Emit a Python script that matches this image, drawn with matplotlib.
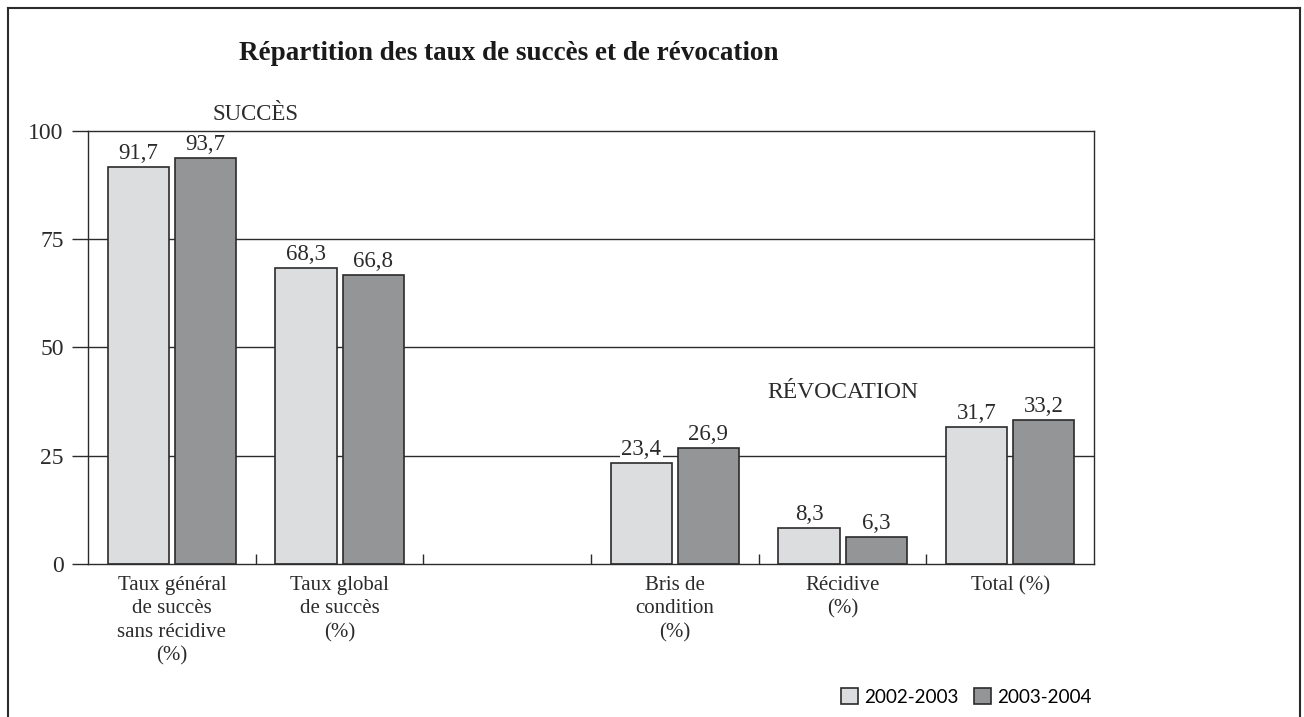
import numpy as np
import matplotlib
matplotlib.use("Agg")
import matplotlib.pyplot as plt
from matplotlib.lines import Line2D

# data (empty slot between the two groups)
categories = ["Taux général\nde succès\nsans récidive\n(%)",
              "Taux global\nde succès\n(%)",
              "",
              "Bris de\ncondition\n(%)",
              "Récidive\n(%)",
              "Total (%)"]
values_2002 = [91.7, 68.3, np.nan, 23.4, 8.3, 31.7]
values_2003 = [93.7, 66.8, np.nan, 26.9, 6.3, 33.2]
series_names = ["2002-2003", "2003-2004"]
yticks = [0, 25, 50, 75, 100]


def fmt(v):
    return f"{v:.1f}".replace(".", ",")


def main():
    plt.rcParams["font.family"] = ["Liberation Serif", "DejaVu Serif"]
    ink = "#2b2b2b"
    light = "#dcdddf"
    dark = "#949597"

    fig = plt.figure(figsize=(13.04, 7.17), dpi=100)
    ax = fig.add_axes([0.0675, 0.2134, 0.7715, 0.6039])

    x = np.arange(len(categories)) + 0.5
    w = 0.364
    off = 0.2
    b1 = ax.bar(x - off, values_2002, w, color=light, edgecolor=ink,
                linewidth=1.2, zorder=3, label=series_names[0])
    b2 = ax.bar(x + off, values_2003, w, color=dark, edgecolor=ink,
                linewidth=1.2, zorder=3, label=series_names[1])

    # labels sit above gridlines but under the bars, so the white box
    # only cuts the gridline
    for bars, vals in ((b1, values_2002), (b2, values_2003)):
        for rect, v in zip(bars, vals):
            if np.isnan(v):
                continue
            ax.annotate(fmt(v), (rect.get_x() + rect.get_width() / 2, v),
                        xytext=(0, 2), textcoords="offset points",
                        ha="center", va="bottom", fontsize=16.5, color=ink,
                        zorder=2,
                        bbox=dict(facecolor="white", edgecolor="none", pad=1.0))

    ax.set_xlim(0, len(categories))
    ax.set_ylim(0, 100)
    ax.set_yticks(yticks)
    ax.set_yticklabels([str(t) for t in yticks])
    ax.tick_params(axis="y", direction="out", length=11.5, width=1.0,
                   color=ink, labelsize=17, labelcolor=ink, pad=6)
    for t in yticks[1:-1]:
        ax.axhline(t, color=ink, linewidth=1.0, zorder=1)

    ax.set_xticks(x)
    ax.set_xticklabels(categories, fontsize=15, color=ink, linespacing=1.32)
    ax.tick_params(axis="x", which="major", length=0, pad=8.5)
    ax.set_xticks(np.arange(1, len(categories)), minor=True)
    ax.tick_params(axis="x", which="minor", direction="in", length=7,
                   width=1.0, color=ink)

    for s in ax.spines.values():
        s.set_color(ink)
        s.set_linewidth(1.0)
        s.set_zorder(5)

    ax.text(1.0, 103.7, "SUCCÈS", ha="center", va="center", fontsize=16.5,
            color=ink)
    ax.text(4.5, 39.7, "RÉVOCATION", ha="center", va="center", fontsize=17,
            color=ink)

    fig.text(0.39, 0.925, "Répartition des taux de succès et de révocation",
             ha="center", va="center", fontsize=19.5, fontweight="bold",
             color="#1a1a1a")

    fig.legend(handles=[b1, b2], labels=series_names, loc="center right",
               bbox_to_anchor=(0.8445, 0.028), ncol=2, frameon=False,
               borderpad=0, handlelength=0.9, handleheight=0.9,
               handletextpad=0.35, columnspacing=0.8,
               prop={"family": ["Lato", "DejaVu Sans"], "size": 13.6})

    # outer frame (open at the bottom)
    fx0, fx1, fy1 = 8 / 1304, 1300 / 1304, 1 - 8 / 717
    for xs, ys in (([fx0, fx0], [0, fy1]), ([fx0, fx1], [fy1, fy1]),
                   ([fx1, fx1], [fy1, 0])):
        fig.add_artist(Line2D(xs, ys, color=ink, linewidth=1.5,
                              transform=fig.transFigure))

    fig.savefig("out.png", dpi=100)


if __name__ == "__main__":

    main()
